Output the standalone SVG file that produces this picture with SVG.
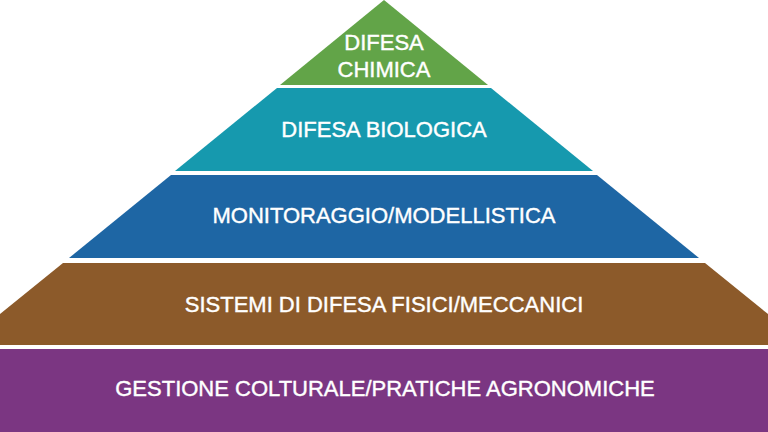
<svg xmlns="http://www.w3.org/2000/svg" width="768" height="432" viewBox="0 0 768 432">
  <style>
    .lbl { font-family: "Liberation Sans", Arial, sans-serif; font-size: 22px; fill: #ffffff; stroke: #ffffff; stroke-width: 0.4; text-anchor: middle; }
  </style>
  <rect width="768" height="432" fill="#ffffff"/>
  <g id="chimica">
    <polygon points="384,0 488,85 280,85" fill="#62A448"/>
    <text class="lbl" x="384" y="50">DIFESA</text>
    <text class="lbl" x="384" y="77">CHIMICA</text>
  </g>
  <g id="biologica">
    <polygon points="277,88 491,88 593,171 175,171" fill="#1699AE"/>
    <text class="lbl" x="384" y="137">DIFESA BIOLOGICA</text>
  </g>
  <g id="monitoraggio">
    <polygon points="171,175 597,175 699,258 69,258" fill="#1E66A4"/>
    <text class="lbl" x="384" y="223">MONITORAGGIO/MODELLISTICA</text>
  </g>
  <g id="sistemi">
    <polygon points="63,263 705,263 768,314 768,345 0,345 0,314" fill="#8C5A2A"/>
    <text class="lbl" x="384" y="312">SISTEMI DI DIFESA FISICI/MECCANICI</text>
  </g>
  <g id="gestione">
    <rect x="0" y="349" width="768" height="83" fill="#7B3682"/>
    <text class="lbl" x="385" y="396">GESTIONE COLTURALE/PRATICHE AGRONOMICHE</text>
  </g>
  <g id="connectors"/>
</svg>
